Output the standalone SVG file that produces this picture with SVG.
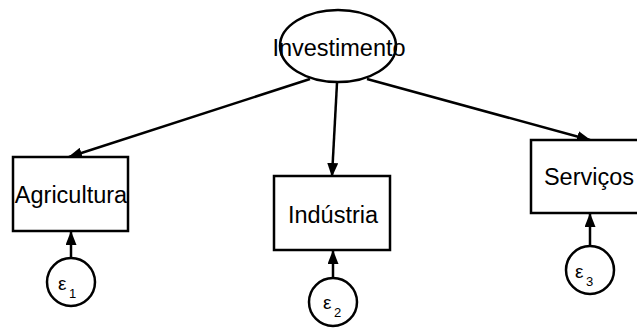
<svg xmlns="http://www.w3.org/2000/svg" width="637" height="329" viewBox="0 0 637 329">
  <style>
    .shape { fill: #ffffff; stroke: #000000; stroke-width: 2.5; }
    .label { font-family: "Liberation Sans", Arial, sans-serif; font-size: 23.5px; fill: #000000; }
    .err { font-family: "Liberation Sans", Arial, sans-serif; font-size: 19px; fill: #000000; }
    .sub { font-size: 13px; }
    .edge { stroke: #000000; stroke-width: 2.5; fill: none; marker-end: url(#head); }
  </style>
  <defs>
    <marker id="head" markerWidth="14" markerHeight="11" refX="13" refY="5.5" orient="auto" markerUnits="userSpaceOnUse">
      <path d="M0,0 L14,5.5 L0,11 Z" fill="#000000"/>
    </marker>
  </defs>

  <g id="connectors">
    <line class="edge" x1="310" y1="79" x2="69" y2="157"/>
    <line class="edge" x1="337" y1="83" x2="332" y2="176"/>
    <line class="edge" x1="367" y1="79" x2="590" y2="140"/>
    <line class="edge" x1="71" y1="258" x2="71" y2="232"/>
    <line class="edge" x1="333" y1="278" x2="333" y2="251"/>
    <line class="edge" x1="590" y1="246" x2="590" y2="214"/>
  </g>

  <g id="investimento">
    <ellipse class="shape" cx="338" cy="46" rx="58" ry="36"/>
    <text class="label" x="339" y="56" text-anchor="middle">Investimento</text>
  </g>

  <g id="agricultura">
    <rect class="shape" x="13" y="157" width="115" height="74"/>
    <text class="label" x="71" y="203" text-anchor="middle">Agricultura</text>
  </g>

  <g id="industria">
    <rect class="shape" x="274" y="176" width="116" height="74"/>
    <text class="label" x="333" y="223" text-anchor="middle">Indústria</text>
  </g>

  <g id="servicos">
    <rect class="shape" x="531" y="140" width="110" height="73"/>
    <text class="label" x="589" y="185" text-anchor="middle">Serviços</text>
  </g>

  <g id="e1">
    <circle class="shape" cx="71" cy="282" r="24"/>
    <text class="err" x="58" y="290">ε<tspan class="sub" x="69" y="298">1</tspan></text>
  </g>

  <g id="e2">
    <circle class="shape" cx="333" cy="302" r="24"/>
    <text class="err" x="323" y="309">ε<tspan class="sub" x="334" y="317">2</tspan></text>
  </g>

  <g id="e3">
    <circle class="shape" cx="590" cy="270" r="24"/>
    <text class="err" x="575" y="278">ε<tspan class="sub" x="586" y="286">3</tspan></text>
  </g>
</svg>
